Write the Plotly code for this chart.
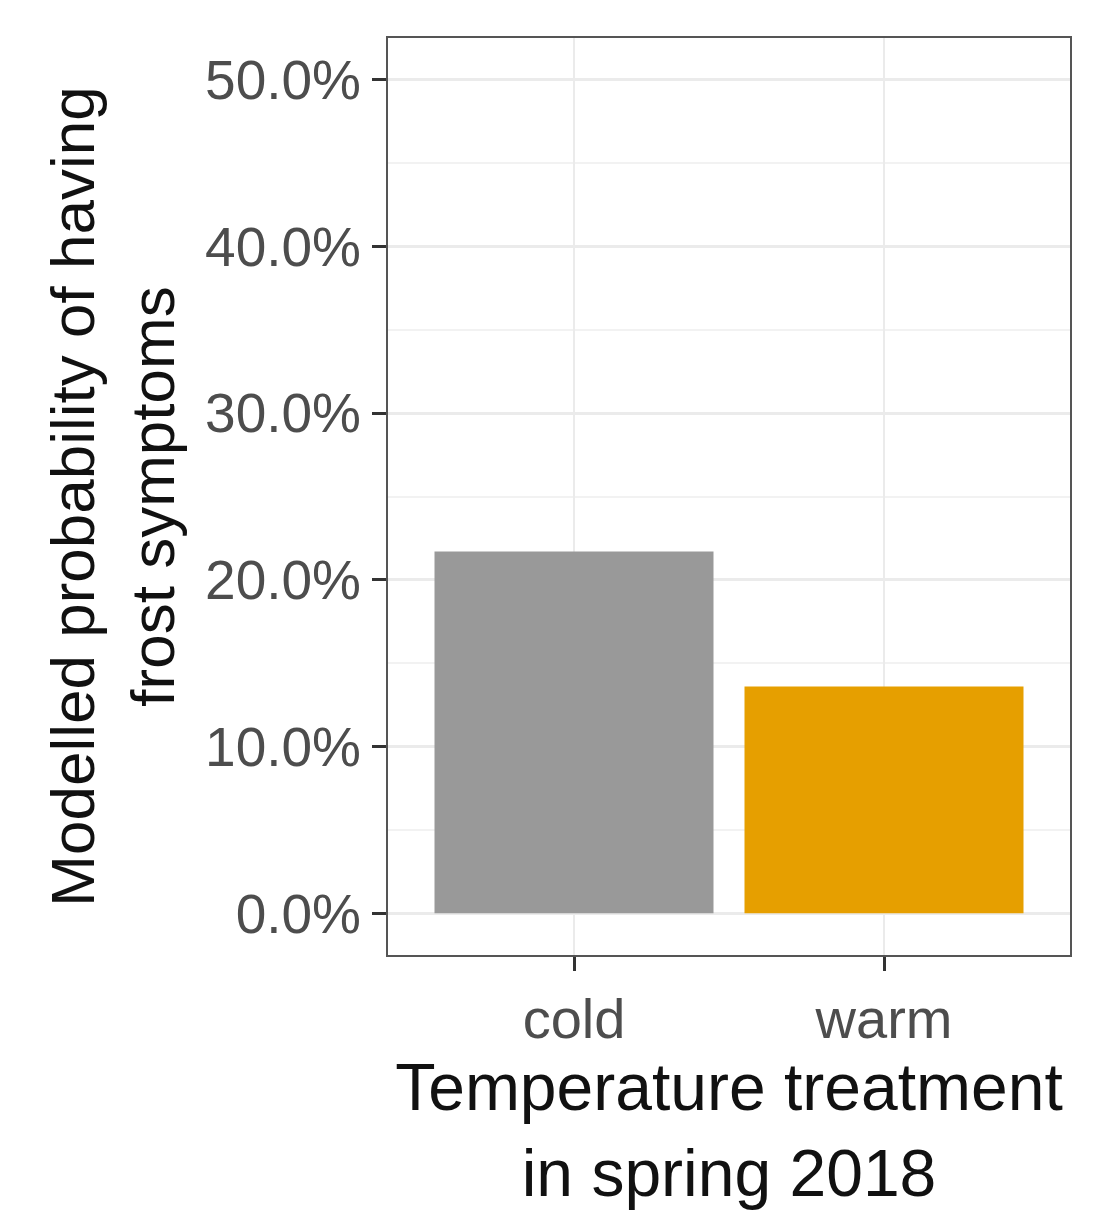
import plotly.graph_objects as go

treatments = ["cold", "warm"]
probability = [21.7, 13.6]
bar_colors = ["#999999", "#E69F00"]

fig = go.Figure(go.Bar(x=treatments, y=probability, width=0.9,
                       marker=dict(color=bar_colors, line=dict(width=0))))

fig.update_layout(
    width=1110, height=1225, plot_bgcolor="white", paper_bgcolor="white",
    margin=dict(l=380, r=48, t=30, b=278),
    font=dict(family="Liberation Sans, Arial, sans-serif"),
    showlegend=False,
)
fig.update_xaxes(range=[-0.6, 1.6], showline=True, mirror=True, linecolor="#555555", linewidth=2,
                 ticks="outside", ticklen=14, tickwidth=3, tickcolor="#333333",
                 gridcolor="#ebebeb", gridwidth=2, tickfont=dict(size=56, color="#4d4d4d"),
                 title=dict(text="Temperature treatment<br>in spring 2018", font=dict(size=66, color="#111111"),
                            standoff=6))
fig.update_yaxes(range=[-2.5, 52.5], tickvals=[0, 10, 20, 30, 40, 50],
                 ticktext=["0.0%", "10.0%", "20.0%", "30.0%", "40.0%", "50.0%"],
                 showline=True, mirror=True, linecolor="#555555", linewidth=2,
                 ticks="outside", ticklen=14, tickwidth=3, tickcolor="#333333",
                 gridcolor="#ebebeb", gridwidth=3, zeroline=False,
                 minor=dict(tickvals=[5, 15, 25, 35, 45], showgrid=True, gridcolor="#f2f2f2", gridwidth=2),
                 tickfont=dict(size=55, color="#4d4d4d"),
                 title=dict(text="Modelled probability of having<br>frost symptoms",
                            font=dict(size=62, color="#111111"), standoff=10))

fig.write_html("out.html")
